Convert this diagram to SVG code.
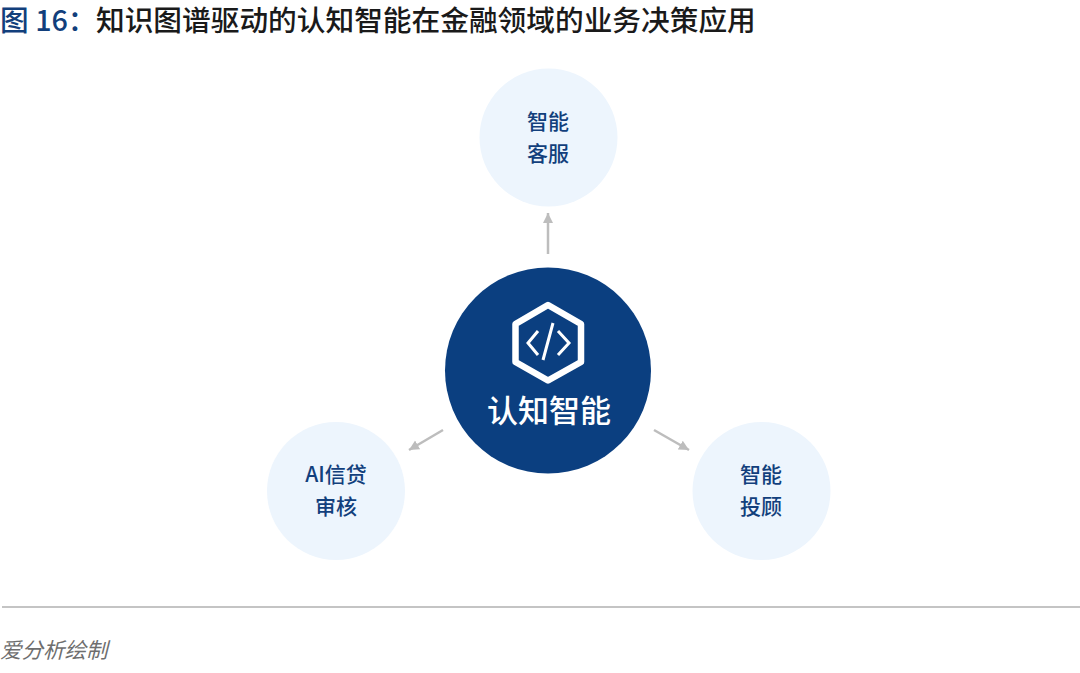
<svg xmlns="http://www.w3.org/2000/svg" width="1080" height="673" viewBox="0 0 1080 673">
<style>
text{font-family:"Noto Sans CJK SC","Liberation Sans",sans-serif}
.s{fill:#edf5fd}
.l{fill:#123f7c;font-size:21px;text-anchor:middle;font-weight:500}
.c{stroke:#bdbdbd;stroke-width:2.500;fill:none;marker-end:url(#a)}
</style>
<defs><marker id="a" markerUnits="userSpaceOnUse" markerWidth="12" markerHeight="12" refX="10" refY="6" orient="auto"><path d="M0 1L10 6L0 11Z" fill="#bdbdbd"/></marker></defs>
<rect width="1080" height="673" fill="#fff"/>
<g id="title" font-size="28.700" font-weight="500"><text x="0" y="31" fill="#123f7c">图 16：</text><text x="96" y="31" fill="#1a1a1a">知识图谱驱动的认知智能在金融领域的业务决策应用</text></g>
<g id="connectors">
<path class="c" d="M548 254V213"/>
<path class="c" d="M443 430L409 450"/>
<path class="c" d="M654 430L689 450"/>
</g>
<g id="center"><circle cx="548" cy="370.500" r="103" fill="#0b3f80"/>
<path d="M548 305L581 324V362L548 380.500L515.500 362V324Z" fill="none" stroke="#fff" stroke-width="6.500" stroke-linejoin="round"/>
<path d="M538 331L528 343L538 355M558 331L569 343L558 355M553 323L543 360" fill="none" stroke="#fff" stroke-width="3"/>
<text x="549" y="422" font-size="31" font-weight="500" fill="#fff" text-anchor="middle">认知智能</text></g>
<g id="n1"><circle class="s" cx="548.500" cy="137.500" r="69"/><text class="l" x="548" y="129">智能</text><text class="l" x="548" y="161">客服</text></g>
<g id="n2"><circle class="s" cx="336" cy="491" r="69"/><text class="l" x="336" y="482">AI信贷</text><text class="l" x="336" y="514">审核</text></g>
<g id="n3"><circle class="s" cx="761.500" cy="491" r="69"/><text class="l" x="761" y="482">智能</text><text class="l" x="761" y="514">投顾</text></g>
<path d="M2 607H1080" stroke="#c4c4c4" stroke-width="2"/>
<text x="0" y="658" font-size="21.500" font-style="italic" fill="#6e6e6e">爱分析绘制</text>
</svg>
